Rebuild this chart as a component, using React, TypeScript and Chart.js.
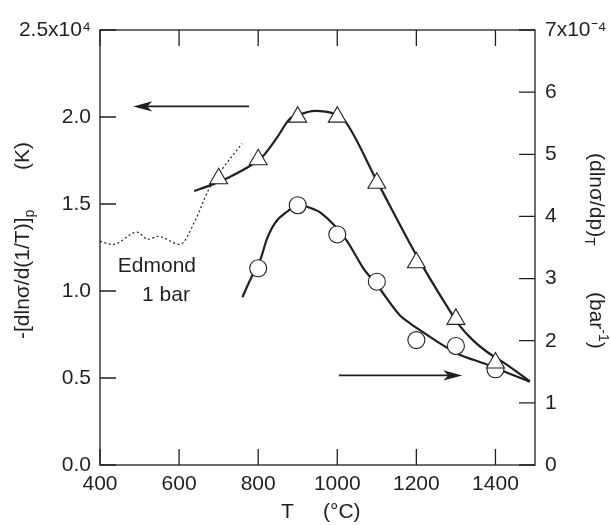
import React, { useEffect, useRef } from 'react';
import { Chart, registerables } from 'chart.js';

Chart.register(...registerables);

const FONT = '"Liberation Sans", Arial, Helvetica, sans-serif';
const INK = '#231f20';

// axes
const xTicks = [400, 600, 800, 1000, 1200, 1400];
const leftTicks = [0, 0.5, 1.0, 1.5, 2.0, 2.5];
const leftTickLabels = ['0.0', '0.5', '1.0', '1.5', '2.0', '2.5x10\u2074'];
const rightTicks = [0, 1, 2, 3, 4, 5, 6, 7];
const rightTickLabels = ['0', '1', '2', '3', '4', '5', '6', '7x10\u207B\u2074'];

// triangles: -[dln σ / d(1/T)]_p  (x10^4 K), left axis
const triT = [700, 800, 900, 1000, 1100, 1200, 1300, 1400];
const triV = [1.646, 1.755, 2.0, 2.0, 1.62, 1.163, 0.838, 0.587];

// circles: (dln σ / dp)_T  (x10^-4 bar^-1), right axis
const circT = [800, 900, 1000, 1100, 1200, 1300, 1400];
const circV = [3.165, 4.18, 3.71, 2.95, 2.01, 1.915, 1.54];

// smooth curve through triangles (left axis)
const triCurveT = [638, 682, 723, 783, 810, 847, 880, 900, 943, 990, 1019, 1100, 1200, 1276, 1310, 1344, 1380, 1420, 1487];
const triCurveV = [1.575, 1.61, 1.65, 1.724, 1.77, 1.88, 1.99, 2.01, 2.035, 2.02, 1.978, 1.633, 1.206, 0.917, 0.80, 0.715, 0.648, 0.59, 0.482];

// smooth curve through circles (right axis)
const circCurveT = [760, 783, 807, 821, 842, 876, 905, 922, 960, 1023, 1066, 1100, 1158, 1184, 1209, 1302, 1377, 1436, 1487];
const circCurveV = [2.70, 3.02, 3.33, 3.62, 3.89, 4.09, 4.2, 4.16, 4.05, 3.62, 3.165, 2.9, 2.41, 2.28, 2.17, 1.80, 1.62, 1.47, 1.34];

// Edmond, 1 bar (dotted, left axis)
const edT = [400, 433, 494, 521, 547, 602, 640, 673, 708, 759];
const edV = [1.285, 1.268, 1.338, 1.297, 1.314, 1.268, 1.401, 1.575, 1.697, 1.847];

// annotations (data coordinates, left axis)
const arrowLeft = [777, 484, 2.061]; // from T, to T, value
const arrowRight = [1004, 1316, 0.515];
const edmondLabel = [544, 1.112];
const barLabel = [567, 0.945];

const pts = (xs: number[], ys: number[]) => xs.map((x, i) => ({ x, y: ys[i] }));

type Part = { t: string; size?: number; dy?: number };
function rich(ctx: CanvasRenderingContext2D, parts: Part[], x: number, y: number, rot: number) {
  ctx.save();
  ctx.translate(x, y);
  ctx.rotate(rot);
  ctx.textAlign = 'left';
  ctx.textBaseline = 'alphabetic';
  ctx.fillStyle = INK;
  let cx = 0;
  for (const p of parts) {
    ctx.font = `${p.size ?? 21}px ${FONT}`;
    ctx.fillText(p.t, cx, p.dy ?? 0);
    cx += ctx.measureText(p.t).width;
  }
  ctx.restore();
}

function arrow(ctx: CanvasRenderingContext2D, x1: number, x2: number, y: number) {
  const dir = Math.sign(x2 - x1);
  const L = 19, W = 5.2, N = 14;
  ctx.beginPath();
  ctx.moveTo(x1, y);
  ctx.lineTo(x2 - dir * N, y);
  ctx.lineWidth = 1.8;
  ctx.stroke();
  ctx.beginPath();
  ctx.moveTo(x2, y);
  ctx.lineTo(x2 - dir * L, y - W);
  ctx.lineTo(x2 - dir * N, y);
  ctx.lineTo(x2 - dir * L, y + W);
  ctx.closePath();
  ctx.fill();
}

const TICK = 16;

const overlay = {
  id: 'overlay',
  afterDraw(chart: any) {
    const { ctx, chartArea: a, scales } = chart;
    const sx = scales.x, yl = scales.y, yr = scales.y2;
    ctx.save();
    ctx.strokeStyle = INK;
    ctx.fillStyle = INK;
    ctx.lineWidth = 1.3;
    ctx.strokeRect(a.left, a.top, a.right - a.left, a.bottom - a.top);
    ctx.beginPath();
    xTicks.forEach((v) => {
      const px = sx.getPixelForValue(v);
      ctx.moveTo(px, a.bottom); ctx.lineTo(px, a.bottom - TICK);
      ctx.moveTo(px, a.top); ctx.lineTo(px, a.top + TICK);
    });
    leftTicks.forEach((v) => {
      const py = yl.getPixelForValue(v);
      ctx.moveTo(a.left, py); ctx.lineTo(a.left + TICK, py);
    });
    rightTicks.forEach((v) => {
      const py = yr.getPixelForValue(v);
      ctx.moveTo(a.right, py); ctx.lineTo(a.right - TICK, py);
    });
    ctx.stroke();

    // arrows
    arrow(ctx, sx.getPixelForValue(arrowLeft[0]), sx.getPixelForValue(arrowLeft[1]), yl.getPixelForValue(arrowLeft[2]));
    arrow(ctx, sx.getPixelForValue(arrowRight[0]), sx.getPixelForValue(arrowRight[1]), yl.getPixelForValue(arrowRight[2]));

    // Edmond labels
    ctx.font = `21px ${FONT}`;
    ctx.textAlign = 'center';
    ctx.textBaseline = 'alphabetic';
    ctx.fillText('Edmond', sx.getPixelForValue(edmondLabel[0]), yl.getPixelForValue(edmondLabel[1]));
    ctx.fillText('1 bar', sx.getPixelForValue(barLabel[0]), yl.getPixelForValue(barLabel[1]));
    ctx.restore();

    // axis titles
    rich(ctx, [{ t: '-[dln\u03C3/d(1/T)]' }, { t: 'p', size: 14, dy: 5 }], 28.5, 339, -Math.PI / 2);
    rich(ctx, [{ t: '(K)' }], 28.5, 170, -Math.PI / 2);
    rich(ctx, [{ t: '(dln\u03C3/dp)' }, { t: 'T', size: 14, dy: 5 }], 590, 153, Math.PI / 2);
    rich(ctx, [{ t: '(bar' }, { t: '-1', size: 14, dy: -9 }, { t: ')' }], 590, 292, Math.PI / 2);
    rich(ctx, [{ t: 'T' }], 281, 518, 0);
    rich(ctx, [{ t: '(\u00B0C)' }], 323, 518, 0);
  },
};

export default function App() {
  const ref = useRef<HTMLCanvasElement>(null);
  useEffect(() => {
    const tickFont = { family: FONT, size: 21 };
    const chart = new Chart(ref.current!, {
      type: 'scatter',
      data: {
        datasets: [
          {
            label: 'triangles',
            data: pts(triT, triV),
            yAxisID: 'y',
            showLine: false,
            pointStyle: 'triangle',
            pointRadius: 10.3,
            backgroundColor: '#ffffff',
            borderColor: INK,
            borderWidth: 1.1,
          },
          {
            label: 'circles',
            data: pts(circT, circV),
            yAxisID: 'y2',
            showLine: false,
            pointStyle: 'circle',
            pointRadius: 8.5,
            backgroundColor: '#ffffff',
            borderColor: INK,
            borderWidth: 1.1,
          },
          {
            label: 'tri curve',
            data: pts(triCurveT, triCurveV),
            yAxisID: 'y',
            showLine: true,
            pointRadius: 0,
            borderColor: INK,
            borderWidth: 2.2,
            cubicInterpolationMode: 'monotone',
          } as any,
          {
            label: 'circ curve',
            data: pts(circCurveT, circCurveV),
            yAxisID: 'y2',
            showLine: true,
            pointRadius: 0,
            borderColor: INK,
            borderWidth: 2.2,
            cubicInterpolationMode: 'monotone',
          } as any,
          {
            label: 'Edmond',
            data: pts(edT, edV),
            yAxisID: 'y',
            showLine: true,
            pointRadius: 0,
            borderColor: INK,
            borderWidth: 1.2,
            borderDash: [2, 2.5],
            cubicInterpolationMode: 'monotone',
          } as any,
        ],
      },
      options: {
        animation: false,
        responsive: false,
        layout: { padding: { top: 30, left: 0, right: 0, bottom: 0 } },
        plugins: { legend: { display: false }, tooltip: { enabled: false } },
        scales: {
          x: {
            type: 'linear',
            position: 'bottom',
            min: 400,
            max: 1500,
            afterBuildTicks: (s: any) => { s.ticks = xTicks.map((v) => ({ value: v })); },
            afterFit: (s: any) => { s.height = 60; },
            grid: { display: false, drawTicks: false },
            border: { display: false },
            ticks: {
              font: tickFont, color: INK, padding: 7, maxRotation: 0, autoSkip: false,
              callback: (v: any) => String(v),
            },
          },
          y: {
            type: 'linear',
            position: 'left',
            min: 0,
            max: 2.5,
            afterBuildTicks: (s: any) => { s.ticks = leftTicks.map((v) => ({ value: v })); },
            afterFit: (s: any) => { s.width = 100; },
            grid: { display: false, drawTicks: false },
            border: { display: false },
            ticks: {
              font: tickFont, color: INK, padding: 9, autoSkip: false,
              callback: (v: any) => leftTickLabels[leftTicks.indexOf(Number(v))] ?? '',
            },
          },
          y2: {
            type: 'linear',
            position: 'right',
            min: 0,
            max: 7,
            afterBuildTicks: (s: any) => { s.ticks = rightTicks.map((v) => ({ value: v })); },
            afterFit: (s: any) => { s.width = 76; },
            grid: { display: false, drawTicks: false },
            border: { display: false },
            ticks: {
              font: tickFont, color: INK, padding: 10, autoSkip: false,
              callback: (v: any) => rightTickLabels[rightTicks.indexOf(Number(v))] ?? '',
            },
          },
        },
      },
      plugins: [overlay],
    } as any);
    return () => chart.destroy();
  }, []);
  return (
    <div style={{ position: 'absolute', left: 0, top: 0, width: 611, height: 525, background: '#fff' }}>
      <canvas ref={ref} width={611} height={525} style={{ display: 'block' }} />
    </div>
  );
}
